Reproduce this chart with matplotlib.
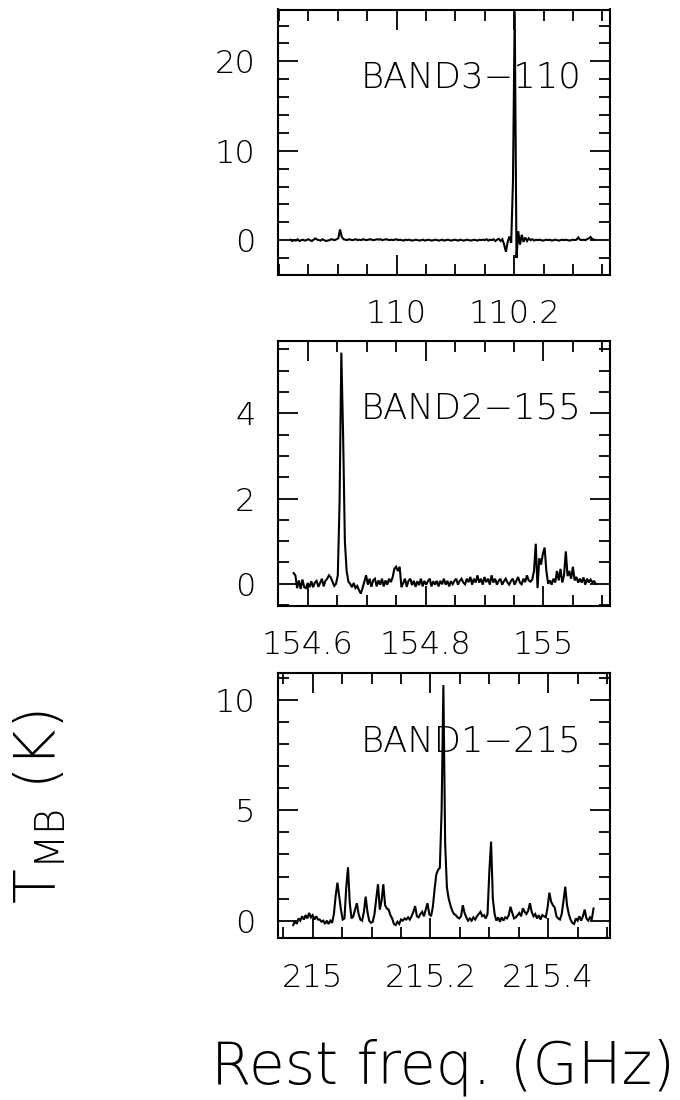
import numpy as np
import matplotlib
matplotlib.use("Agg")
import matplotlib.pyplot as plt
from matplotlib.ticker import MultipleLocator

plt.rcParams['font.family'] = ['DejaVu Sans']
plt.rcParams['font.weight'] = 'light'
plt.rcParams['mathtext.default'] = 'regular'

# ---- BAND3-110 spectrum (GHz, K) ----
band3_f0 = 109.820
band3_df = 0.003
band3_tmb = [
    0.05, -0.1, 0.0, -0.05, 0.1, -0.1, 0.0, 0.05, -0.05, 0.0,
    0.1, 0.0, -0.1, 0.05, 0.2, 0.05, 0.0, -0.05, 0.1, 0.0,
    -0.1, -0.05, 0.0, 0.1, 0.05, 0.0, 0.1, 0.2, 1.2, 0.35,
    0.1, 0.05, 0.0, 0.1, 0.05, 0.0, 0.05, 0.1, 0.0, 0.05,
    0.0, 0.1, 0.05, 0.0, 0.05, 0.1, 0.05, 0.0, 0.05, 0.1,
    0.05, 0.1, 0.0, 0.05, 0.1, 0.05, 0.0, 0.05, 0.0, 0.05,
    0.1, 0.0, 0.05, 0.0, -0.05, 0.05, 0.0, 0.05, 0.0, -0.05,
    0.0, 0.05, 0.0, -0.05, 0.0, 0.05, -0.05, 0.0, 0.05, 0.0,
    -0.05, 0.0, 0.05, 0.0, -0.05, 0.0, 0.05, -0.05, 0.0, 0.05,
    0.0, -0.05, 0.0, 0.05, 0.0, -0.05, 0.05, 0.0, -0.05, 0.0,
    0.05, 0.0, -0.05, 0.0, 0.05, 0.0, -0.05, 0.05, 0.0, 0.05,
    0.0, 0.1, -0.05, 0.05, 0.0, 0.1, -0.1, 0.05, 0.15, -0.1,
    0.1, -0.5, -1.3, -0.2, 0.4, -0.3, 6.5, 25.6, -2.0, 1.0,
    -0.5, 0.6, -0.2, 0.3, -0.1, 0.2, 0.0, 0.1, -0.05, 0.05,
    0.0, 0.05, 0.0, -0.05, 0.0, 0.05, 0.0, 0.05, -0.05, 0.0,
    0.05, 0.0, -0.05, 0.0, 0.05, 0.0, 0.05, 0.0, -0.05, 0.0,
    0.05, 0.0, 0.05, 0.3, 0.05, 0.0, 0.05, 0.0, 0.1, 0.2,
    0.35, 0.1, 0.05,
]

# ---- BAND2-155 spectrum ----
band2_f0 = 154.576
band2_df = 0.003
band2_tmb = [
    0.25, 0.2, -0.1, 0.08, -0.12, 0.1, -0.08, -0.1, 0.02, -0.08,
    0.06, -0.08, 0.03, 0.07, -0.07, 0.02, 0.12, -0.06, 0.07, 0.12,
    0.2, 0.15, 0.05, -0.05, 0.0, 0.2, 1.9, 5.42, 3.5, 1.0,
    0.3, 0.05, 0.0, -0.08, 0.02, -0.1, -0.05, -0.15, -0.23, -0.1,
    0.05, 0.2, -0.02, 0.12, -0.07, 0.08, 0.12, -0.06, 0.08, -0.02,
    0.12, -0.06, 0.08, -0.02, 0.12, 0.04, 0.15, 0.35, 0.4, 0.3,
    0.4, -0.08, 0.02, 0.12, -0.07, 0.07, 0.12, -0.03, 0.07, -0.07,
    0.06, -0.03, 0.12, -0.06, 0.07, -0.02, 0.06, 0.12, -0.06, 0.06,
    -0.02, 0.07, -0.06, 0.07, -0.01, 0.12, -0.02, 0.07, -0.06, 0.06,
    -0.01, 0.07, 0.12, -0.02, 0.07, 0.12, 0.03, -0.01, 0.12, 0.04,
    0.16, -0.02, 0.12, 0.03, 0.2, 0.03, 0.12, -0.02, 0.16, 0.04,
    0.12, -0.02, 0.2, 0.03, 0.12, -0.02, 0.07, 0.12, -0.02, 0.06,
    0.12, 0.03, -0.02, 0.07, 0.12, -0.02, 0.07, 0.16, 0.03, -0.01,
    0.12, 0.04, 0.2, 0.08, 0.05, 0.1, 0.3, 0.94, -0.1, 0.6,
    0.45, 0.7, 0.85, 0.3, 0.0, 0.08, -0.02, 0.12, 0.03, 0.3,
    0.08, 0.35, 0.03, 0.2, 0.76, 0.18, 0.3, 0.12, 0.4, 0.08,
    0.16, 0.03, 0.12, 0.03, 0.15, -0.02, 0.12, 0.03, 0.1, 0.04,
    0.06, 0.0,
]

# ---- BAND1-215 spectrum ----
band1_f0 = 214.967
band1_df = 0.003
band1_tmb = [
    -0.2, 0.0, -0.15, 0.1, 0.0, 0.2, 0.05, 0.25, 0.1, 0.35,
    0.15, 0.25, 0.05, 0.2, 0.05, 0.05, -0.05, 0.0, -0.15, 0.0,
    -0.15, 0.0, -0.1, 0.3, 1.1, 1.72, 1.1, 0.5, 0.05, 0.1,
    1.5, 2.42, 0.8, 0.1, 0.2, 0.5, 0.79, 0.3, 0.05, 0.0,
    0.4, 1.09, 0.4, 0.0, -0.1, -0.05, 0.3, 1.0, 1.65, 0.5,
    0.9, 1.65, 0.7, 0.55, 0.5, 0.25, 0.1, -0.15, -0.2, -0.05,
    -0.15, 0.05, 0.0, 0.1, 0.05, 0.15, 0.05, 0.2, 0.4, 0.66,
    0.2, 0.15, 0.3, 0.4, 0.2, 0.5, 0.79, 0.3, 0.2, 0.6,
    1.4, 2.1, 2.3, 2.4, 5.0, 10.68, 3.5, 1.5, 1.0, 0.7,
    0.45, 0.3, 0.25, 0.15, 0.1, 0.2, 0.7, 0.35, 0.15, 0.0,
    0.1, 0.0, 0.15, 0.05, 0.2, 0.3, 0.4, 0.2, 0.25, 0.1,
    0.3, 2.2, 3.58, 1.0, 0.3, 0.0, 0.15, -0.05, 0.15, 0.0,
    0.15, 0.1, 0.25, 0.63, 0.35, 0.1, 0.15, 0.25, 0.35, 0.2,
    0.56, 0.4, 0.3, 0.45, 0.79, 0.4, 0.2, 0.3, 0.1, 0.25,
    0.05, 0.25, 0.2, 0.15, 0.6, 1.27, 0.86, 0.7, 0.6, 0.2,
    0.1, 0.05, 0.3, 0.9, 1.54, 0.7, 0.3, 0.05, -0.1, -0.15,
    0.1, 0.0, 0.2, 0.0, 0.2, 0.5, 0.1, 0.0, 0.15, 0.05,
    0.55,
]

band_names = ["BAND3\u2212110", "BAND2\u2212155", "BAND1\u2212215"]
x_limits = [(109.798, 110.363), (154.549, 155.113), (214.9406, 215.505)]
y_limits = [(-3.9, 25.8), (-0.52, 5.70), (-0.80, 11.24)]
x_ticks = [[110.0, 110.2], [154.6, 154.8, 155.0], [215.0, 215.2, 215.4]]
x_ticklabels = [["110", "110.2"], ["154.6", "154.8", "155"], ["215", "215.2", "215.4"]]
y_ticks = [[0, 10, 20], [0, 2, 4], [0, 5, 10]]
y_minor_step = [2, 0.5, 1]

spectra = [
    (band3_f0, band3_df, band3_tmb),
    (band2_f0, band2_df, band2_tmb),
    (band1_f0, band1_df, band1_tmb),
]

W, H = 680, 1100
fig = plt.figure(figsize=(W / 100, H / 100), dpi=100)

# axes boxes in pixel units: left, top, right, bottom
boxes = [(277.7, 9.5, 610.0, 275.0),
         (277.7, 340.7, 610.0, 606.0),
         (277.7, 672.7, 610.0, 938.3)]

for k, (l, t, r, b) in enumerate(boxes):
    ax = fig.add_axes([l / W, 1 - b / H, (r - l) / W, (b - t) / H])
    f0, df, tmb = spectra[k]
    freq = f0 + df * np.arange(len(tmb))
    ax.plot(freq, tmb, color="black", lw=1.5, solid_joinstyle="miter")
    ax.set_xlim(*x_limits[k])
    ax.set_ylim(*y_limits[k])
    ax.set_xticks(x_ticks[k])
    ax.set_xticklabels(x_ticklabels[k])
    ax.set_yticks(y_ticks[k])
    ax.xaxis.set_minor_locator(MultipleLocator(0.05))
    ax.yaxis.set_minor_locator(MultipleLocator(y_minor_step[k]))
    ax.tick_params(which="both", direction="in", top=True, right=True,
                   width=1.3, colors="black")
    ax.tick_params(which="major", length=14.5, labelsize=23)
    ax.tick_params(axis="x", which="major", pad=17.5)
    ax.tick_params(axis="y", which="major", pad=16)
    ax.tick_params(which="minor", length=8)
    for s in ax.spines.values():
        s.set_linewidth(1.5)
    ax.text(0.915, 0.705, band_names[k], transform=ax.transAxes,
            ha="right", va="baseline", fontsize=25.5)

fig.text(443 / W, 1 - 1083 / H, "Rest freq. (GHz)", ha="center",
         va="baseline", fontsize=42)
fig.text(40 / W, 1 - 807 / H, r"$\mathregular{T_{MB}}$ (K)", rotation=90,
         ha="center", va="center", fontsize=41)

fig.savefig("out.png", dpi=100)
